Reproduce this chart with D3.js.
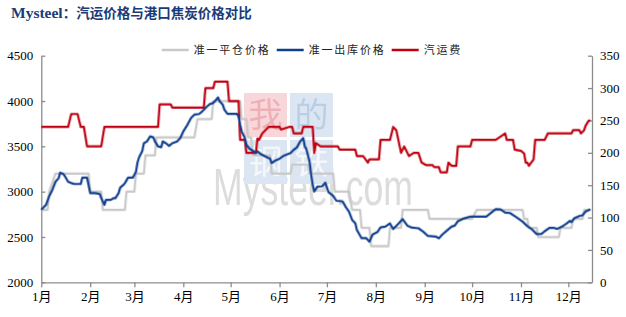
<!DOCTYPE html>
<html>
<head>
<meta charset="utf-8">
<script src="https://cdn.jsdelivr.net/npm/d3@7"></script>
<style>
  body { margin: 0; background: #fff; }
  svg { display: block; }
  .axisLines path, .axisLines line { stroke: #8c8c8c; stroke-width: 1.3px; }
  .axisLines text { font-family: "Liberation Serif", "Noto Sans CJK SC", serif; font-size: 13px; fill: #000; }
  .line { fill: none; stroke-width: 2.2px; stroke-linejoin: round; }
</style>
</head>
<body>
<div id="chart"></div>
<script>
// series data, dates as month-day
var seriesNames = ["准一平仓价格", "准一出库价格", "汽运费"];
var seriesColors = ["#c8c8c8", "#103f8e", "#c00010"];

var leftTicks = [2000, 2500, 3000, 3500, 4000, 4500];
var rightTicks = [0, 50, 100, 150, 200, 250, 300, 350];
var monthLabels = ["1月", "2月", "3月", "4月", "5月", "6月", "7月", "8月", "9月", "10月", "11月", "12月"];

// 准一平仓价格 (left axis)
var pingcang = [
  ["01-01", 2800], ["01-05", 2800], ["01-06", 3000], ["01-10", 3200], ["01-31", 3200],
  ["02-01", 3000], ["02-08", 3000], ["02-09", 2800], ["02-23", 2800], ["02-24", 3000],
  ["03-01", 3000], ["03-02", 3200], ["03-07", 3200], ["03-08", 3400], ["03-14", 3400],
  ["03-15", 3600], ["04-08", 3600], ["04-10", 3800], ["04-19", 3800], ["04-20", 4000],
  ["05-07", 4000], ["05-08", 3800], ["05-11", 3800], ["05-12", 3600], ["05-14", 3600],
  ["05-15", 3400], ["05-26", 3400], ["05-27", 3200], ["06-08", 3200], ["06-09", 3300],
  ["06-19", 3300], ["06-20", 3200], ["07-05", 3200], ["07-06", 3000], ["07-15", 3000],
  ["07-17", 2800], ["07-22", 2800], ["07-23", 2600], ["07-28", 2600], ["07-29", 2400],
  ["08-09", 2400], ["08-10", 2600], ["08-17", 2600], ["08-18", 2800], ["09-03", 2800],
  ["09-04", 2700], ["10-01", 2700], ["10-04", 2800], ["11-02", 2800], ["11-03", 2700],
  ["11-05", 2700], ["11-06", 2600], ["11-11", 2600], ["11-12", 2500], ["11-25", 2500],
  ["11-26", 2600], ["12-03", 2600], ["12-04", 2700], ["12-10", 2700], ["12-11", 2800],
  ["12-15", 2800]
];

// 准一出库价格 (left axis)
var chuku = [
  ["01-01", 2800], ["01-04", 2855], ["01-06", 2950], ["01-08", 3020], ["01-10", 3110],
  ["01-12", 3150], ["01-13", 3210], ["01-15", 3195], ["01-16", 3170], ["01-18", 3110],
  ["01-20", 3095], ["01-22", 3085], ["01-26", 3085], ["01-27", 3155], ["01-30", 3155],
  ["02-01", 2985], ["02-04", 2985], ["02-07", 2975], ["02-08", 2930], ["02-10", 2855],
  ["02-11", 2910], ["02-14", 2910], ["02-16", 2930], ["02-17", 2930], ["02-19", 2985],
  ["02-20", 3045], ["02-22", 3075], ["02-23", 3095], ["02-25", 3155], ["02-28", 3155],
  ["03-02", 3220], ["03-03", 3325], ["03-04", 3380], ["03-06", 3450], ["03-07", 3535],
  ["03-09", 3555], ["03-11", 3610], ["03-13", 3600], ["03-14", 3555], ["03-16", 3500],
  ["03-18", 3490], ["03-19", 3555], ["03-21", 3535], ["03-23", 3505], ["03-25", 3535],
  ["03-28", 3555], ["03-30", 3590], ["04-01", 3665], ["04-03", 3720], ["04-06", 3815],
  ["04-08", 3850], ["04-11", 3857], ["04-13", 3887], ["04-14", 3905], ["04-16", 3940],
  ["04-18", 3968], ["04-20", 3980], ["04-21", 3998], ["04-23", 4040], ["04-24", 3998],
  ["04-26", 3960], ["04-27", 3905], ["04-29", 3858], ["05-05", 3858], ["05-06", 3832],
  ["05-07", 3740], ["05-08", 3666], ["05-10", 3592], ["05-11", 3518], ["05-13", 3474],
  ["05-15", 3452], ["05-17", 3427], ["05-18", 3444], ["05-20", 3416], ["05-23", 3389],
  ["05-26", 3364], ["05-27", 3316], ["05-29", 3341], ["06-01", 3364], ["06-04", 3400],
  ["06-08", 3427], ["06-10", 3463], ["06-12", 3489], ["06-14", 3555], ["06-16", 3592],
  ["06-17", 3500], ["06-18", 3470], ["06-20", 3334], ["06-21", 3190], ["06-22", 3076],
  ["06-23", 3002], ["06-25", 3057], ["06-28", 3060], ["06-30", 3100], ["07-02", 2995],
  ["07-05", 2954], ["07-07", 2900], ["07-10", 2895], ["07-11", 2892], ["07-13", 2830],
  ["07-15", 2781], ["07-17", 2689], ["07-19", 2652], ["07-20", 2578], ["07-23", 2487],
  ["07-26", 2487], ["07-28", 2449], ["07-30", 2528], ["08-02", 2555], ["08-04", 2606],
  ["08-07", 2615], ["08-10", 2650], ["08-12", 2588], ["08-15", 2641], ["08-18", 2698],
  ["08-21", 2625], ["08-24", 2603], ["08-28", 2597], ["08-31", 2560], ["09-03", 2512],
  ["09-08", 2505], ["09-10", 2485], ["09-12", 2525], ["09-15", 2570], ["09-18", 2615],
  ["09-20", 2626], ["09-22", 2674], ["09-25", 2700], ["09-30", 2726], ["10-10", 2726],
  ["10-13", 2766], ["10-16", 2807], ["10-19", 2805], ["10-22", 2770], ["10-25", 2765],
  ["10-29", 2720], ["11-02", 2670], ["11-05", 2620], ["11-08", 2584], ["11-11", 2532],
  ["11-14", 2534], ["11-16", 2564], ["11-19", 2600], ["11-22", 2600], ["11-24", 2590],
  ["11-27", 2615], ["11-30", 2650], ["12-02", 2678], ["12-03", 2665], ["12-05", 2710],
  ["12-08", 2732], ["12-10", 2740], ["12-12", 2781], ["12-15", 2807]
];

// 汽运费 (right axis)
var yunfei = [
  ["01-01", 240], ["01-18", 240], ["01-20", 260], ["01-24", 260], ["01-26", 240],
  ["01-28", 240], ["01-30", 210], ["02-08", 210], ["02-10", 240], ["03-16", 240],
  ["03-17", 275], ["03-24", 275], ["03-25", 270], ["04-14", 270], ["04-15", 300],
  ["04-20", 300], ["04-21", 310], ["04-29", 310], ["04-30", 280], ["05-06", 280],
  ["05-07", 220], ["05-10", 220], ["05-11", 200], ["05-17", 200], ["05-18", 222],
  ["05-19", 220], ["05-21", 230], ["05-25", 240], ["06-01", 240], ["06-02", 236],
  ["06-07", 240], ["06-09", 240], ["06-10", 230], ["06-15", 230], ["06-16", 240],
  ["06-22", 240], ["06-23", 200], ["06-24", 215], ["06-27", 210], ["07-08", 210],
  ["07-09", 205], ["07-19", 205], ["07-20", 195], ["07-24", 195], ["07-27", 185],
  ["07-28", 190], ["08-03", 190], ["08-04", 220], ["08-10", 220], ["08-12", 240],
  ["08-14", 235], ["08-17", 200], ["08-19", 210], ["08-22", 195], ["08-25", 200],
  ["08-28", 200], ["08-30", 185], ["09-02", 181], ["09-06", 181], ["09-07", 178],
  ["09-10", 178], ["09-11", 170], ["09-15", 170], ["09-16", 185], ["09-18", 180],
  ["09-21", 180], ["09-22", 210], ["09-30", 210], ["10-01", 220], ["10-16", 220],
  ["10-19", 225], ["10-22", 230], ["10-23", 220], ["10-27", 220], ["10-28", 205],
  ["11-01", 203], ["11-03", 199], ["11-04", 185], ["11-05", 185], ["11-06", 180],
  ["11-09", 190], ["11-10", 220], ["11-16", 220], ["11-18", 230], ["12-03", 230],
  ["12-04", 235], ["12-08", 235], ["12-09", 230], ["12-11", 235], ["12-12", 242],
  ["12-14", 250], ["12-15", 250]
];

// set the dimensions and margins of the graph
var margin = {top: 55.7, right: 34, bottom: 34.7, left: 41.3},
    width = 626 - margin.left - margin.right,
    height = 317 - margin.top - margin.bottom;

var parseDay = d3.timeParse("%m-%d");

var x = d3.scaleTime()
    .domain([new Date(1900, 0, 1), new Date(1900, 11, 16)])
    .range([0, width]);
var yLeft = d3.scaleLinear().domain([2000, 4500]).range([height, 0]);
var yRight = d3.scaleLinear().domain([0, 350]).range([height, 0]);

var lineLeft = d3.line()
    .x(function(d) { return x(parseDay(d[0])); })
    .y(function(d) { return yLeft(d[1]); });
var lineRight = d3.line()
    .x(function(d) { return x(parseDay(d[0])); })
    .y(function(d) { return yRight(d[1]); });

var root = d3.select("#chart").append("svg")
    .attr("width", 626)
    .attr("height", 317);

// title
var title = root.append("text")
    .attr("x", 11)
    .attr("y", 17.5)
    .style("fill", "#1b3a78")
    .style("font-weight", "bold");
title.append("tspan")
    .style("font-family", "Liberation Serif, serif")
    .style("font-size", "15.5px")
    .text("Mysteel");
title.append("tspan")
    .style("font-family", "Noto Sans CJK SC, sans-serif")
    .style("font-size", "13.5px")
    .text("：汽运价格与港口焦炭价格对比");

var svg = root.append("g")
    .attr("transform", "translate(" + margin.left + "," + margin.top + ")");

// watermark (我的钢铁 + Mysteel.com)
var wm = svg.append("g").attr("opacity", 0.9);
var wmCells = [
  {ch: "我", c: 0, r: 0, bg: "#f6d3d6", fg: "#eca6ae"},
  {ch: "的", c: 1, r: 0, bg: "#d9e4f1", fg: "#b3c9e4"},
  {ch: "钢", c: 0, r: 1, bg: "#d9e4f1", fg: "#f4f7fb"},
  {ch: "铁", c: 1, r: 1, bg: "#d9e4f1", fg: "#f4f7fb"}
];
wm.append("text")
    .attr("x", 213 - margin.left)
    .attr("y", 205 - margin.top)
    .attr("textLength", 200)
    .attr("lengthAdjust", "spacingAndGlyphs")
    .style("font-family", "Liberation Sans, Arial, sans-serif")
    .style("font-size", "52px")
    .style("fill", "#d9d9d9")
    .text("Mysteel.com");
var cell = wm.selectAll(".wmcell").data(wmCells).enter().append("g")
    .attr("class", "wmcell")
    .attr("transform", function(d) {
        return "translate(" + (244 - margin.left + d.c * 46) + "," + (93 - margin.top + d.r * 47) + ")";
    });
cell.append("rect")
    .attr("width", 43).attr("height", 44)
    .style("fill", function(d) { return d.bg; });
cell.append("text")
    .attr("x", 21.5).attr("y", 34)
    .attr("text-anchor", "middle")
    .style("font-family", "Noto Sans CJK SC, sans-serif")
    .style("font-size", "34px")
    .style("fill", function(d) { return d.fg; })
    .text(function(d) { return d.ch; });

// axes
svg.append("g")
    .attr("class", "axisLines")
    .attr("transform", "translate(0," + height + ")")
    .call(d3.axisBottom(x)
        .tickValues(d3.timeMonth.range(new Date(1900, 0, 1), new Date(1900, 11, 2)))
        .tickSize(5).tickSizeOuter(0).tickPadding(4)
        .tickFormat(function(d, i) { return monthLabels[i]; }));

svg.append("g")
    .attr("class", "axisLines")
    .call(d3.axisLeft(yLeft)
        .tickValues(leftTicks)
        .tickFormat(d3.format("d"))
        .tickSize(-4).tickSizeOuter(0).tickPadding(8));

svg.append("g")
    .attr("class", "axisLines")
    .attr("transform", "translate(" + width + ",0)")
    .call(d3.axisRight(yRight)
        .tickValues(rightTicks)
        .tickFormat(d3.format("d"))
        .tickSize(-4).tickSizeOuter(0).tickPadding(8));

// lines
svg.append("path")
    .datum(pingcang)
    .attr("class", "line")
    .style("stroke", seriesColors[0])
    .attr("d", lineLeft);
svg.append("path")
    .datum(yunfei)
    .attr("class", "line")
    .style("stroke", seriesColors[2])
    .attr("d", lineRight);
svg.append("path")
    .datum(chuku)
    .attr("class", "line")
    .style("stroke", seriesColors[1])
    .attr("d", lineLeft);

// legend
var legend = root.selectAll(".legend")
    .data(seriesNames)
    .enter().append("g")
    .attr("class", "legend")
    .attr("transform", function(d, i) { return "translate(" + (161.7 + i * 115) + ",50)"; });
legend.append("line")
    .attr("x1", 0).attr("x2", 27)
    .style("stroke", function(d, i) { return seriesColors[i]; })
    .style("stroke-width", 2.5);
legend.append("text")
    .attr("x", 32)
    .attr("y", 4)
    .style("font-family", "Noto Sans CJK SC, sans-serif")
    .style("font-size", "11px")
    .style("letter-spacing", "1.8px")
    .style("fill", "#222")
    .text(function(d) { return d; });
</script>
</body>
</html>
